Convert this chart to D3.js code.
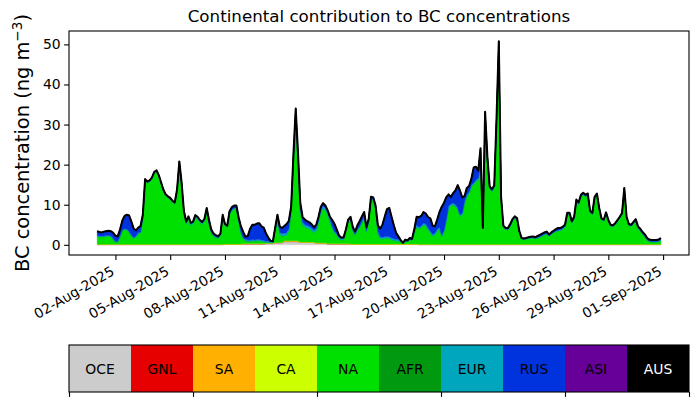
<!DOCTYPE html>
<html>
<head>
<meta charset="utf-8">
<script src="https://cdn.jsdelivr.net/npm/d3@7"></script>
<style>
  body { margin: 0; background: #fff; }
  svg { display: block; font-family: "DejaVu Sans", sans-serif; }
</style>
</head>
<body>
<svg id="chart" width="698" height="402"></svg>
<script>
// continents, bottom of the stack first
var categories = ["OCE", "GNL", "SA", "CA", "NA", "AFR", "EUR", "RUS", "ASI", "AUS"];
var colours = ["#cccccc", "#e60000", "#ffb000", "#ccff00", "#00e000", "#009910", "#00a5be", "#0033dd", "#660099", "#000000"];

// 3-hourly values, 01-Aug-2025 00:00 to 31-Aug-2025 21:00 (one day per row)
var startTime = "2025-08-01T00:00:00Z";
var stepHours = 3;
var tickDates = ["2025-08-02", "2025-08-05", "2025-08-08", "2025-08-11", "2025-08-14", "2025-08-17",
                 "2025-08-20", "2025-08-23", "2025-08-26", "2025-08-29", "2025-09-01"];
var yTicks = [0, 10, 20, 30, 40, 50];

var oce = [
  .05,.05,.05,.05,.05,.05,.05,.05, .05,.05,.05,.05,.05,.05,.05,.05, .05,.05,.05,.05,.05,.05,.05,.05, .05,.05,.05,.05,.05,.05,.05,.05,
  .05,.05,.05,.05,.05,.05,.05,.05, .05,.05,.05,.05,.05,.05,.05,.05, .05,.05,.05,.05,.05,.05,.05,.05, .1,.1,.1,.1,.1,.1,.1,.1,
  .2,.2,.2,.2,.2,.2,.2,.2, .2,.2,.3,.3,.3,.3,.5,.5, .5,.5,.8,.8,.8,.8,.8,.8, .8,.6,.6,.6,.6,.6,.6,.6,
  .4,.4,.4,.4,.4,.2,.2,.2, .2,.2,.2,.2,.2,.2,.2,.1, .1,.1,.1,.1,.1,.1,.1,.1, .1,.1,.1,.1,.1,.1,.1,.1,
  .1,.1,.1,.1,.1,.1,.1,.1, .1,.1,.1,.1,.1,.05,.05,.05, .05,.05,.05,.05,.05,.05,.05,.05, .05,.05,.05,.05,.05,.05,.05,.05,
  .05,.05,.05,.05,.05,.05,.05,.05, .05,.05,.05,.05,.05,.05,.05,.05, .05,.05,.05,.05,.05,.05,.05,.05, .05,.05,.05,.05,.05,.05,.05,.05,
  .05,.05,.05,.05,.05,.05,.05,.05, .05,.05,.05,.05,.05,.05,.05,.05, .05,.05,.05,.05,.05,.05,.05,.05, .05,.05,.05,.05,.05,.05,.05,.05,
  .05,.05,.05,.05,.05,.05,.05,.05, .05,.05,.05,.05,.05,.05,.05,.05, .05,.05,.05,.05,.05,.05,.05,.05
];
var gnl = [
  0,0,0,0,0,0,0,0, 0,0,0,0,0,0,0,0, 0,0,0,0,0,0,0,0, 0,0,0,0,0,0,0,0, 0,0,0,0,0,0,0,0, 0,0,0,0,0,0,0,0, 0,0,0,0,0,0,0,0, 0,0,0,0,0,0,0,0,
  0,0,0,0,0,0,0,0, 0,0,0,0,0,0,0,0, 0,0,0,0,0,0,0,0, 0,0,0,0,0,0,0,0, 0,0,0,0,0,0,0,0, 0,0,0,0,0,0,0,0, 0,0,0,0,0,0,0,0, 0,0,0,0,0,0,0,0,
  0,0,0,0,0,0,0,0, 0,0,0,0,0,0,0,0, 0,0,0,0,0,0,0,0, 0,0,0,0,0,0,0,0, 0,0,0,0,0,0,0,0, 0,0,0,0,0,0,0,0, 0,0,0,0,0,0,0,0, 0,0,0,0,0,0,0,0,
  0,0,0,0,0,0,0,0, 0,0,0,0,0,0,0,0, 0,0,0,0,0,0,0,0, 0,0,0,0,0,0,0,0, 0,0,0,0,0,0,0,0, 0,0,0,0,0,0,0,0, 0,0,0,0,0,0,0,0
];
var sa = [
  .1,.1,.1,.1,.1,.1,.1,.1, .1,.1,.1,.1,.1,.1,.1,.1, .1,.1,.1,.1,.1,.1,.1,.1, .1,.1,.1,.1,.1,.1,.1,.1,
  .1,.1,.1,.1,.1,.1,.1,.1, .1,.1,.1,.1,.1,.1,.1,.1, .1,.1,.1,.1,.1,.1,.1,.1, .1,.1,.1,.1,.1,.1,.1,.1,
  .1,.1,.1,.1,.1,.1,.1,.1, .1,.1,.1,.1,.1,.1,.1,.1, .1,.1,.2,.2,.2,.2,.2,.2, .2,.1,.1,.1,.1,.1,.1,.1,
  .1,.1,.1,.1,.1,.1,.1,.1, .1,.1,.1,.1,.1,.1,.1,.1, .1,.1,.1,.1,.1,.1,.1,.1, .1,.1,.1,.1,.1,.1,.1,.1,
  .1,.1,.1,.1,.1,.1,.1,.1, .1,.1,.1,.1,.1,.1,.1,.1, .1,.1,.1,.1,.1,.1,.1,.1, .1,.1,.1,.1,.1,.1,.1,.1,
  .1,.1,.1,.1,.1,.1,.1,.1, .1,.1,.1,.1,.1,.1,.1,.1, .1,.1,.1,.1,.1,.1,.1,.1, .1,.1,.1,.1,.1,.1,.1,.1,
  .1,.1,.1,.1,.1,.1,.1,.1, .1,.1,.1,.1,.1,.1,.1,.1, .1,.1,.1,.1,.1,.1,.1,.1, .1,.1,.1,.1,.1,.1,.1,.1,
  .1,.1,.1,.1,.1,.1,.1,.1, .1,.1,.1,.1,.1,.1,.1,.1, .1,.1,.1,.1,.1,.1,.1,.1
];
var ca = gnl.slice();
var na = [
  1.95,1.85,1.85,1.85,1.95,2.05,1.85,1.25,
  0.45,0.55,1.85,3.35,3.65,3.55,3.05,2.05,
  1.45,1.85,2.65,2.85,6.35,15.85,15.25,15.55,
  16.25,17.65,18.05,16.85,15.05,13.25,12.05,11.55,
  11.15,10.45,10.05,13.25,20.25,14.95,7.75,5.05,
  6.35,4.75,5.05,6.65,6.25,5.45,4.95,5.75,
  7.85,5.05,2.85,2.05,1.65,1.45,2.15,6.85,
  4.6,4.2,7.4,8.3,8.8,8.8,5.6,2.8,
  1.2,0.7,0.6,0.5,0.7,0.6,0.7,0.7,
  0.6,0.5,0.2,0.2,0.2,0.2,3.0,5.9,
  1.9,1.6,1.3,1.4,2.5,7.5,20.0,30.5,
  20.0,7.8,4.3,3.7,3.5,3.3,2.9,2.3,
  3.0,5.0,7.5,8.5,8.1,7.2,5.5,3.9,
  2.7,2.1,1.2,0.9,1.0,3.2,5.5,6.0,
  3.3,2.2,3.3,4.1,5.3,6.6,3.1,5.6,
  11.1,10.8,8.8,2.8,1.4,1.3,1.4,1.5,
  1.4,1.1,0.9,0.8,0.7,0.5,0.2,0.6,
  0.6,1.0,1.0,2.8,4.3,3.85,4.15,4.85,
  4.65,3.65,2.85,2.05,2.35,3.25,3.85,1.85,
  3.05,5.75,9.05,9.65,9.85,9.45,8.65,6.95,
  7.35,10.35,11.85,12.65,14.35,14.85,15.65,16.05,
  19.35,3.85,29.85,20.35,13.85,13.15,14.15,30.35,
  49.65,11.35,4.15,3.65,3.55,4.45,5.75,6.45,
  6.05,2.85,1.25,1.15,1.25,1.45,1.45,1.55,
  1.35,1.55,1.75,2.05,2.35,2.55,1.95,2.45,
  2.85,3.15,3.35,3.45,3.75,4.35,7.35,7.35,
  5.25,6.35,10.55,9.95,11.85,12.35,11.85,12.15,
  7.85,7.45,11.35,12.15,8.65,6.05,5.75,7.55,
  5.65,4.45,4.35,4.85,5.65,6.45,7.35,13.45,
  6.45,4.65,4.45,5.05,5.75,3.95,3.25,2.45,
  1.85,0.95,0.65,0.55,0.55,0.55,0.65,0.95
];
var afr = gnl.slice();
var eur = [
  .2,.2,.2,.2,.2,.2,.2,.2, .2,.2,.2,.2,.2,.2,.2,.2, .2,.2,.2,.2,.2,.15,.15,.15, .15,.15,.15,.15,.15,.15,.15,.15,
  .15,.15,.15,.15,.15,.15,.3,.3, .3,.3,.3,.3,.3,.3,.3,.3, .2,.2,.2,.2,.2,.2,.2,.2, .2,.2,.2,.2,.2,.2,.2,.2,
  .2,.3,.3,.3,.3,.3,.3,.3, .3,.3,.3,.3,.15,.15,.6,.6, .6,.6,.6,.6,.6,.5,.5,.5, .5,.6,.6,.6,.6,.6,.6,.6,
  .6,.6,.6,.6,.6,.6,.6,.3, .3,.3,.3,.3,.3,.3,.3,.3, .3,.3,.3,.3,.3,.3,.3,.3, .3,.3,.3,.4,.4,.4,.4,.4,
  .4,.4,.4,.4,.4,.2,.1,.1, .1,.1,.1,.4,.4,.4,.4,.4, .4,.4,.4,.4,.4,.4,.4,.4, .4,.4,.4,.4,.4,.4,.4,.4,
  .4,.4,.4,.4,.4,.4,.4,.4, .4,.1,.15,.15,.15,.15,.15,.15, .15,.15,.15,.15,.15,.15,.15,.15, .15,.15,.15,.15,.15,.15,.15,.15,
  .15,.15,.15,.15,.15,.15,.15,.15, .15,.15,.15,.15,.15,.15,.15,.15, .15,.15,.15,.15,.15,.15,.15,.15, .15,.15,.15,.15,.15,.15,.15,.15,
  .15,.15,.15,.15,.15,.15,.15,.15, .15,.15,.15,.15,.15,.15,.15,.15, .15,.15,.15,.15,.15,.15,.15,.15
];
var rus = [
  1.1,1.0,0.9,1.1,1.1,1.1,1.2,1.4,
  1.5,1.2,1.6,2.3,3.2,3.6,3.9,3.4,
  2.2,1.4,1.3,1.5,0.8,0.25,0.25,0.25,
  0.25,0.25,0.25,0.25,0.25,0.25,0.25,0.25,
  0.25,0.25,0.25,0.25,0.25,0.25,0.3,0.3,
  0.3,0.3,0.3,0.3,0.3,0.3,0.3,0.3,
  1.0,0.8,0.6,0.4,0.4,0.3,0.3,0.3,
  0.2,0.2,0.6,0.7,0.6,0.6,0.8,1.4,
  1.5,0.7,1.0,2.9,3.7,3.8,4.0,4.1,
  3.4,3.2,1.9,0.9,0.25,0.15,0.1,0.4,
  1.5,1.4,1.8,2.2,1.9,0.5,1.0,2.0,
  1.5,1.4,1.4,1.3,1.1,1.0,0.9,0.8,
  0.9,0.9,0.9,0.8,0.6,0.5,0.6,1.7,
  1.9,1.1,0.5,0.3,0.3,0.1,0.2,0.5,
  0.7,0.6,1.0,1.3,1.3,1.1,0.8,0.4,
  0.4,0.5,0.5,1.5,2.0,3.1,5.0,6.8,
  7.2,5.3,3.4,1.6,0.8,0.3,0.0,0.4,
  0.2,0.4,0.2,0.6,2.1,2.5,2.5,2.8,
  2.6,2.7,3.2,2.2,1.7,2.5,3.8,7.1,
  6.9,5.6,3.0,1.7,2.5,3.6,5.7,6.0,
  3.9,1.3,1.8,1.5,1.6,3.9,3.3,1.9,
  4.2,0.1,3.05,1.35,0.45,0.45,0.35,0.95,
  0.85,0.35,0.35,0.25,0.35,0.45,0.35,0.35,
  0.35,0.25,0.15,0.15,0.15,0.15,0.25,0.25,
  0.25,0.35,0.45,0.45,0.45,0.45,0.35,0.35,
  0.35,0.45,0.55,0.45,0.45,0.35,0.35,0.35,
  0.35,0.35,0.45,0.35,0.35,0.35,0.35,0.35,
  0.35,0.25,0.35,0.35,0.25,0.25,0.25,0.25,
  0.25,0.25,0.25,0.25,0.25,0.25,0.25,0.45,
  0.25,0.25,0.25,0.35,0.35,0.35,0.3,0.3,
  0.3,0.3,0.2,0.2,0.2,0.2,0.2,0.3
];
var asi = [
  0,0,0,0,0,0,0,0, 0,0,0,0,0,0,0,0, 0,0,0,0,0,0,0,0, 0,0,0,0,0,0,0,0, 0,0,0,0,0,0,0,0, 0,0,0,0,0,0,0,0, 0,0,0,0,0,0,0,0, 0,0,0,0,0,0,0,0,
  0,0,0,0,0,0,0,0, 0,0,0,0,0,0,0,0, 0,0,0,0,0,0,0,0, 0,0,0,0,0,0,0,0, 0,0,0,0,0,0,0,0, 0,0,0,0,0,0,0,0, 0,0,0,0,0,0,0,0, 0,0,0,0,0,0,0,0,
  0,0,0,0,0,0,0,0, 0,0,0,0,0,0,0,0, 0,0,0,0,0,0,0,0, 0,0,0,0,0,0,0,0, 0,0,0,0,0,0,0,0, 0,0,0,0,0,0,0,0, 0,0,0,0,0,0,0,0, 0,0,0,0,0,0,0,0,
  0,0,0,0,0,0,0,0, 0,0,0,0,0,0,0,0, 0,0,0,0,0,0,0,0, 0,0,0,0,0,0,0,0, 0,0,0,0,0,0,0,0, 0,0,0,0,0,0,.15,.15, .15,.15,.15,.15,.15,.15,.15,.15
];
var aus = gnl.slice();

var series = { OCE: oce, GNL: gnl, SA: sa, CA: ca, NA: na, AFR: afr, EUR: eur, RUS: rus, ASI: asi, AUS: aus };

var svg = d3.select("#chart");
var plot = { left: 69, right: 689, top: 31, bottom: 255 };
var fontSmall = "13.9px";

var t0 = new Date(startTime);
var rows = oce.map(function (d, i) {
    var row = { time: d3.utcHour.offset(t0, i * stepHours) };
    categories.forEach(function (c) { row[c] = series[c][i]; });
    return row;
});
var layers = d3.stack().keys(categories)(rows);
var totals = rows.map(function (r) { return d3.sum(categories, function (c) { return r[c]; }); });

// matplotlib style 5% margins
var tExt = d3.extent(rows, function (r) { return r.time; });
var span = tExt[1] - tExt[0];
var x = d3.scaleUtc()
    .domain([new Date(+tExt[0] - 0.05 * span), new Date(+tExt[1] + 0.05 * span)])
    .range([plot.left, plot.right]);
var yMax = d3.max(totals);
var y = d3.scaleLinear()
    .domain([-0.05 * yMax, 1.05 * yMax])
    .range([plot.bottom, plot.top]);

svg.append("defs").append("clipPath").attr("id", "clip")
    .append("rect")
    .attr("x", plot.left).attr("y", plot.top)
    .attr("width", plot.right - plot.left).attr("height", plot.bottom - plot.top);

var area = d3.area()
    .x(function (d) { return x(d.data.time); })
    .y0(function (d) { return y(d[0]); })
    .y1(function (d) { return y(d[1]); });

var g = svg.append("g").attr("clip-path", "url(#clip)");
g.selectAll("path.layer")
    .data(layers)
    .join("path")
    .attr("class", "layer")
    .attr("d", area)
    .attr("fill", function (d, i) { return colours[i]; })
    .attr("stroke", function (d, i) { return colours[i]; })
    .attr("stroke-width", 0.4);

g.append("path")
    .datum(rows)
    .attr("fill", "none")
    .attr("stroke", "#000")
    .attr("stroke-width", 2)
    .attr("stroke-linejoin", "round")
    .attr("d", d3.line()
        .x(function (d) { return x(d.time); })
        .y(function (d, i) { return y(totals[i]); }));

// axes
var yAxis = svg.append("g")
    .attr("transform", "translate(" + plot.left + ",0)")
    .call(d3.axisLeft(y).tickValues(yTicks).tickSize(4.9).tickPadding(3.5));
var parseDay = d3.utcParse("%Y-%m-%d");
var xAxis = svg.append("g")
    .attr("transform", "translate(0," + plot.bottom + ")")
    .call(d3.axisBottom(x)
        .tickValues(tickDates.map(parseDay))
        .tickFormat(d3.utcFormat("%d-%b-%Y"))
        .tickSize(4.9));
[xAxis, yAxis].forEach(function (a) {
    a.select(".domain").remove();
    a.selectAll("line").attr("stroke", "#000").attr("stroke-width", 1.1);
    a.selectAll("text").attr("font-size", fontSmall).attr("font-family", "DejaVu Sans").attr("fill", "#000");
});
xAxis.selectAll("text")
    .attr("text-anchor", "end")
    .attr("y", 0).attr("x", 0)
    .attr("dy", "0.78em")
    .attr("transform", "translate(-6,9.8) rotate(-30)");

svg.append("rect")
    .attr("x", plot.left).attr("y", plot.top)
    .attr("width", plot.right - plot.left).attr("height", plot.bottom - plot.top)
    .attr("fill", "none").attr("stroke", "#000").attr("stroke-width", 1.1);

svg.append("text")
    .attr("x", (plot.left + plot.right) / 2).attr("y", 22)
    .attr("text-anchor", "middle")
    .attr("font-size", "16.7px")
    .text("Continental contribution to BC concentrations");

var ylab = svg.append("text")
    .attr("transform", "translate(29," + (plot.top + plot.bottom) / 2 + ") rotate(-90)")
    .attr("text-anchor", "middle")
    .attr("font-size", "19.4px");
ylab.append("tspan").text("BC concentration (ng m");
ylab.append("tspan").attr("font-size", "13.6px").attr("dy", "-0.55em").text("\u22123");
ylab.append("tspan").attr("dy", "0.38em").text(")");

// colour bar legend
var bar = { left: 69, right: 689, top: 345, bottom: 392 };
var bx = d3.scaleLinear().domain([0, categories.length]).range([bar.left, bar.right]);
var cells = svg.append("g").selectAll("g")
    .data(categories)
    .join("g");
cells.append("rect")
    .attr("x", function (d, i) { return bx(i); })
    .attr("y", bar.top)
    .attr("width", bx(1) - bx(0))
    .attr("height", bar.bottom - bar.top)
    .attr("fill", function (d, i) { return colours[i]; });
cells.append("text")
    .attr("x", function (d, i) { return bx(i + 0.5); })
    .attr("y", (bar.top + bar.bottom) / 2)
    .attr("dy", "0.36em")
    .attr("text-anchor", "middle")
    .attr("font-size", fontSmall)
    .attr("fill", function (d) { return d === "AUS" ? "#fff" : "#000"; })
    .text(function (d) { return d; });
svg.append("rect")
    .attr("x", bar.left).attr("y", bar.top)
    .attr("width", bar.right - bar.left).attr("height", bar.bottom - bar.top)
    .attr("fill", "none").attr("stroke", "#000").attr("stroke-width", 1.1);
svg.append("g")
    .attr("transform", "translate(0," + bar.bottom + ")")
    .call(d3.axisBottom(bx).tickValues([0, 2, 4, 6, 8, 10]).tickSize(4.9).tickFormat(""))
    .call(function (a) {
        a.select(".domain").remove();
        a.selectAll("line").attr("stroke", "#000").attr("stroke-width", 1.1);
    });
</script>
</body>
</html>
